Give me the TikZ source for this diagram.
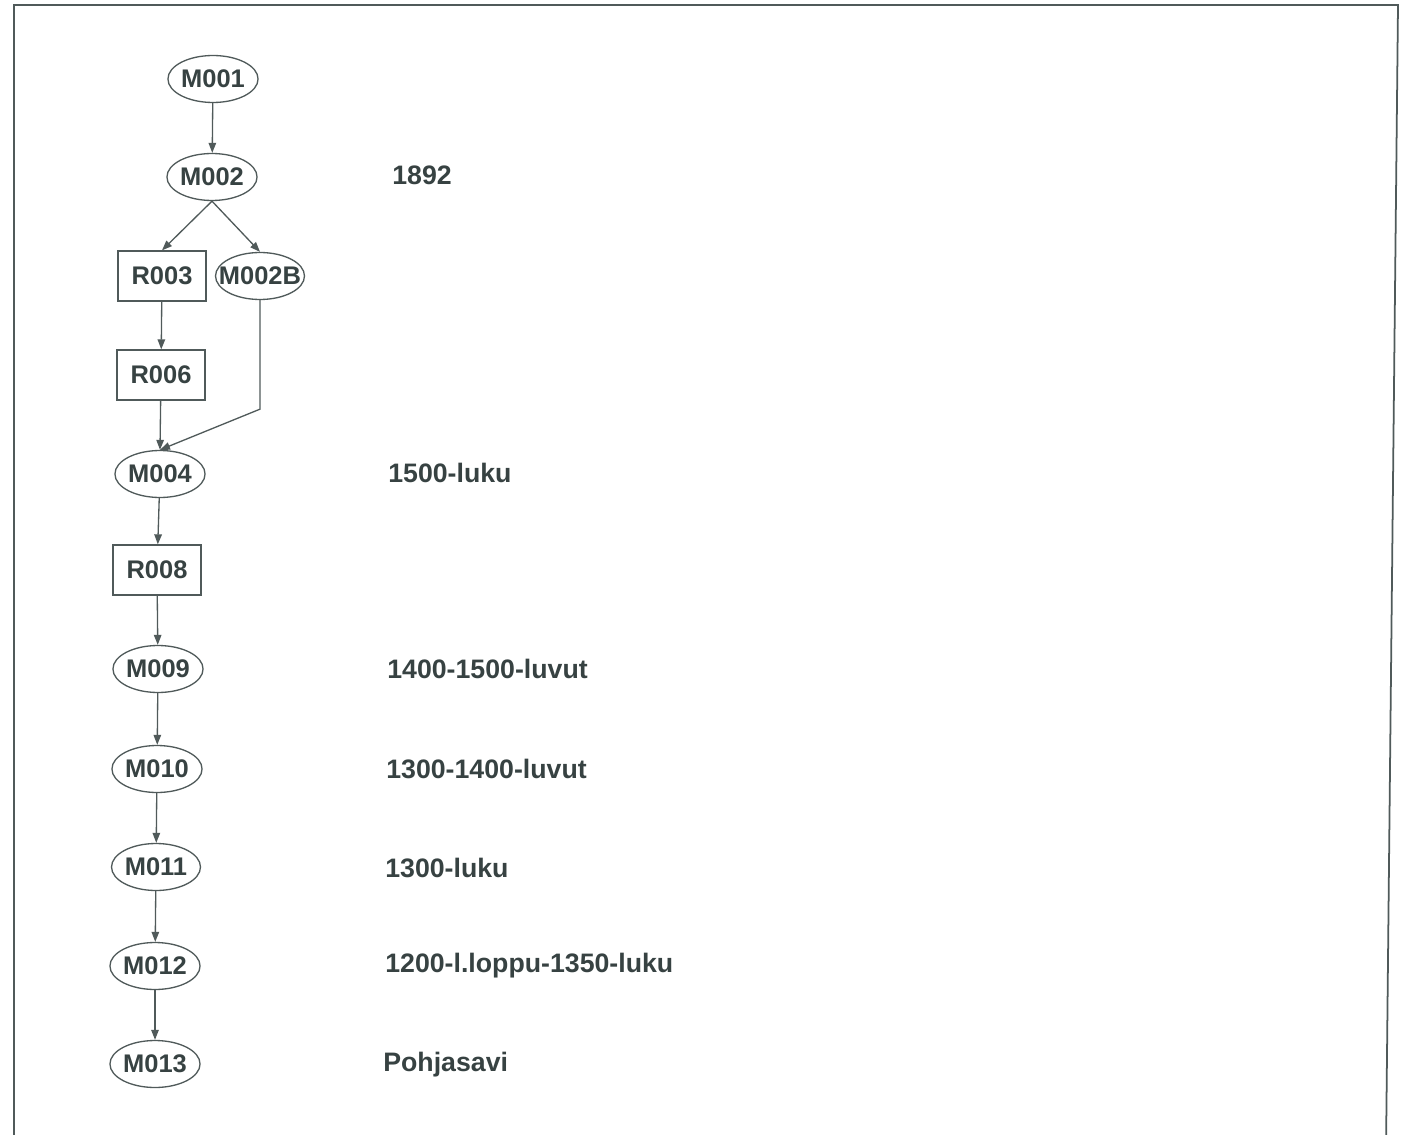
\documentclass[tikz,border=0pt]{standalone}
\usepackage{fontspec}
\setmainfont{Liberation Sans}
\usetikzlibrary{shapes.geometric, arrows.meta, positioning}
\definecolor{ink}{RGB}{55,66,66}
\definecolor{edgegray}{RGB}{80,90,90}
\newcommand{\flatlbl}[1]{\makebox[0pt]{#1}}

\begin{document}
\begin{tikzpicture}[x=0.02cm, y=-0.02cm,
    layer/.style={ellipse, draw=edgegray, line width=0.75pt, minimum width=1.78cm, minimum height=0.94cm, inner sep=0pt, text=ink, font=\fontsize{14.5}{17}\selectfont\bfseries},
    find/.style={rectangle, draw=edgegray, line width=0.75pt, minimum width=1.76cm, minimum height=1cm, inner sep=0pt, text=ink, font=\fontsize{14.5}{17}\selectfont\bfseries},
    date/.style={anchor=west, inner sep=0pt, text=ink, font=\fontsize{15.2}{18}\selectfont\bfseries},
    arr/.style={-{Triangle[length=0.2cm, width=0.15cm]}, edgegray, line width=0.75pt},
]
    \useasboundingbox (0,0) rectangle (1403,1135);

    % Frame (bottom edge lies below the page)
    \draw[edgegray, line width=1pt] (14,1150) -- (14,5) -- (1398,5) -- (1386,1150);

    % Top of the sequence
    \node[layer] (m001) at (213, 79) {M001};
    \node[layer] (m002) at (212, 177) {M002};

    % Branch: two units under M002
    \node[find]  (r003)  at (162, 276) {R003};
    \node[layer] (m002b) at (260, 276) {\flatlbl{M002B}};
    \node[find]  (r006)  at (161, 375) {R006};

    % Main column downwards
    \node[layer] (m004) at (160, 474) {M004};
    \node[find]  (r008) at (157, 570) {R008};
    \node[layer] (m009) at (158, 669) {M009};
    \node[layer] (m010) at (157, 769) {M010};
    \node[layer] (m011) at (156, 867) {M011};
    \node[layer] (m012) at (155, 966) {M012};
    \node[layer] (m013) at (155, 1064) {M013};

    % Dating labels
    \node[date] (d002) at (392, 175) {1892};
    \node[date] (d004) at (388, 473) {1500-luku};
    \node[date] (d009) at (387, 669) {1400-1500-luvut};
    \node[date] (d010) at (386, 769) {1300-1400-luvut};
    \node[date] (d011) at (385, 868) {1300-luku};
    \node[date] (d012) at (385, 966) {1200-l.loppu-1350-luku};
    \node[date] (d013) at (383, 1065) {Pohjasavi};

    % Arrows
    \draw[arr] (m001) -- (m002);
    \draw[arr] (m002.south) -- (r003.north);
    \draw[arr] (m002.south) -- (m002b.north);
    \draw[arr] (r003) -- (r006);
    \draw[arr] (r006) -- (m004.north);
    \draw[arr] (m002b.south) -- ++(0,109) -- (m004.north);
    \draw[arr] (m004) -- (r008);
    \draw[arr] (r008) -- (m009);
    \draw[arr] (m009) -- (m010);
    \draw[arr] (m010) -- (m011);
    \draw[arr] (m011) -- (m012);
    \draw[arr] (m012) -- (m013);
\end{tikzpicture}
\end{document}
